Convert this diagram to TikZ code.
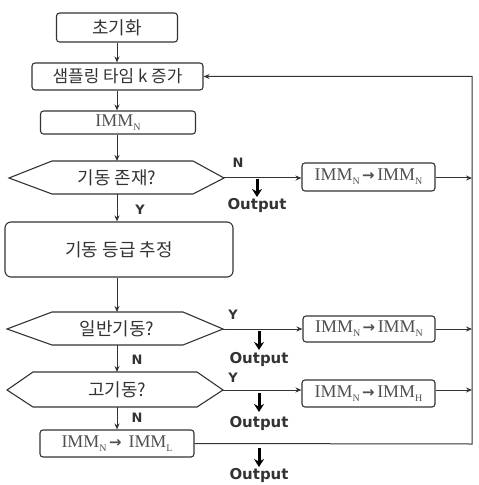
\documentclass[tikz,border=0pt]{standalone}
\usepackage{fontspec}
\usetikzlibrary{arrows.meta}
\newfontfamily\kr{Noto Sans CJK KR}
\newfontfamily\tm{Liberation Serif}
\newfontfamily\dv{DejaVu Sans}
\definecolor{ln}{HTML}{333333}
\definecolor{imm}{HTML}{505050}
\newcommand\immsub[1]{IMM\raisebox{-4bp}{\fontsize{10}{10}\selectfont #1}}
\newcommand\immarr{{\dv\bfseries\fontsize{15}{15}\selectfont\,→\,}}
\begin{document}
\begin{tikzpicture}[x=1bp,y=-1bp,
  box/.style={draw=ln, line width=1.1bp, rounded corners=3bp, inner sep=0pt, text=ln},
  krtxt/.style={font=\kr\fontsize{18}{18}\selectfont, text=ln},
  immtxt/.style={font=\tm\fontsize{18}{18}\selectfont, text=imm},
  hexs/.style={draw=ln, line width=1.1bp},
  arr/.style={draw=ln, line width=1bp, -{Stealth[length=6bp,width=5bp]}},
  outarr/.style={draw=black, line width=3bp, -{Stealth[length=8bp,width=10bp]}},
  lbl/.style={font=\dv\bfseries\fontsize{13}{13}\selectfont, text=ln, inner sep=0pt},
  outlbl/.style={font=\dv\bfseries\fontsize{15}{15}\selectfont, text=ln, inner sep=0pt}]
\useasboundingbox (0,0) rectangle (479,485);
% left column boxes
\node[box, krtxt, minimum width=121bp, minimum height=29bp] (b1) at (117,27.5) {초기화};
\node[box, krtxt, font=\kr\fontsize{17}{17}\selectfont, minimum width=171bp, minimum height=27bp] (b2) at (117.5,76.5) {샘플링 타임 k 증가};
\node[box, immtxt, minimum width=155bp, minimum height=23bp] (b3) at (118,122.5) {\immsub{N}};
% hexagon 1
\draw[hexs] (9,178) coordinate (h1w) -- (52,161) -- (193,161) -- (224,178) coordinate (h1e) -- (193,194) -- (52,194) -- cycle;
\coordinate (h1n) at (117,161); \coordinate (h1s) at (117,194);
\node[krtxt] (h1) at (117,178) {기동 존재?};
\node[box, krtxt, rounded corners=6bp, minimum width=228bp, minimum height=55bp] (b4) at (119,249.5) {기동 등급 추정};
% hexagon 2
\draw[hexs] (7,329) coordinate (h2w) -- (52,312) -- (183,312) -- (223,329) coordinate (h2e) -- (183,345) -- (52,345) -- cycle;
\coordinate (h2n) at (117,312); \coordinate (h2s) at (117,345);
\node[krtxt] (h2) at (117,329) {일반기동?};
% hexagon 3
\draw[hexs] (7,390) coordinate (h3w) -- (33,372) -- (197,372) -- (223,390) coordinate (h3e) -- (197,407) -- (33,407) -- cycle;
\coordinate (h3n) at (117,372); \coordinate (h3s) at (117,407);
\node[krtxt] (h3) at (117,390) {고기동?};
\node[box, immtxt, minimum width=154bp, minimum height=27bp] (b5) at (117,443.5) {\immsub{N}\immarr\ \immsub{L}};
% right boxes
\node[box, immtxt, minimum width=133bp, minimum height=28bp] (r1) at (368.5,177) {\immsub{N}\immarr\immsub{N}};
\node[box, immtxt, minimum width=132bp, minimum height=26bp] (r2) at (369,329) {\immsub{N}\immarr\immsub{N}};
\node[box, immtxt, minimum width=133bp, minimum height=27bp] (r3) at (368.5,393.5) {\immsub{N}\immarr\immsub{H}};
\coordinate (rb) at (472,444);
% vertical connectors
\draw[arr] (b1.south) -- (b1.south |- b2.north);
\draw[arr] (b2.south -| b1.south) -- (b1.south |- b3.north);
\draw[arr] (b1.south |- b3.south) -- (h1n);
\draw[arr] (h1s) -- (h1s |- b4.north);
\draw[arr] (h1s |- b4.south) -- (h2n);
\draw[arr] (h2s) -- (h3n);
\draw[arr] (h3s) -- (h3s |- b5.north);
\node[lbl] (ly1) at (140,210) {Y};
\node[lbl] (ln2) at (137,360) {N};
\node[lbl] (ln3) at (137,418) {N};
% horizontal connectors
\draw[arr] (h1e) -- (h1e -| r1.west);
\draw[arr] (r1.east |- h1e) -- (h1e -| rb);
\draw[arr] (h2e) -- (h2e -| r2.west);
\draw[arr] (r2.east |- h2e) -- (h2e -| rb);
\draw[arr] (h3e) -- (h3e -| r3.west);
\draw[arr] (r3.east |- h3e) -- (h3e -| rb);
\draw[arr] (b5.east) -- (rb) |- (b2.east);
\node[lbl] (ln1) at (238,163) {N};
\node[lbl] (ly2) at (233,315) {Y};
\node[lbl] (ly3) at (233,378) {Y};
% outputs
\coordinate (o1a) at (257,179); \coordinate (o1b) at (257,197);
\coordinate (o2a) at (259,331); \coordinate (o2b) at (259,350);
\coordinate (o3a) at (259,393); \coordinate (o3b) at (259,412);
\coordinate (o4a) at (259,448); \coordinate (o4b) at (259,467);
\draw[outarr] (o1a) -- (o1b);
\draw[outarr] (o2a) -- (o2b);
\draw[outarr] (o3a) -- (o3b);
\draw[outarr] (o4a) -- (o4b);
\node[outlbl] (out1) at (257,206) {Output};
\node[outlbl] (out2) at (259,360) {Output};
\node[outlbl] (out3) at (259,424) {Output};
\node[outlbl] (out4) at (259,476) {Output};
\end{tikzpicture}
\end{document}
